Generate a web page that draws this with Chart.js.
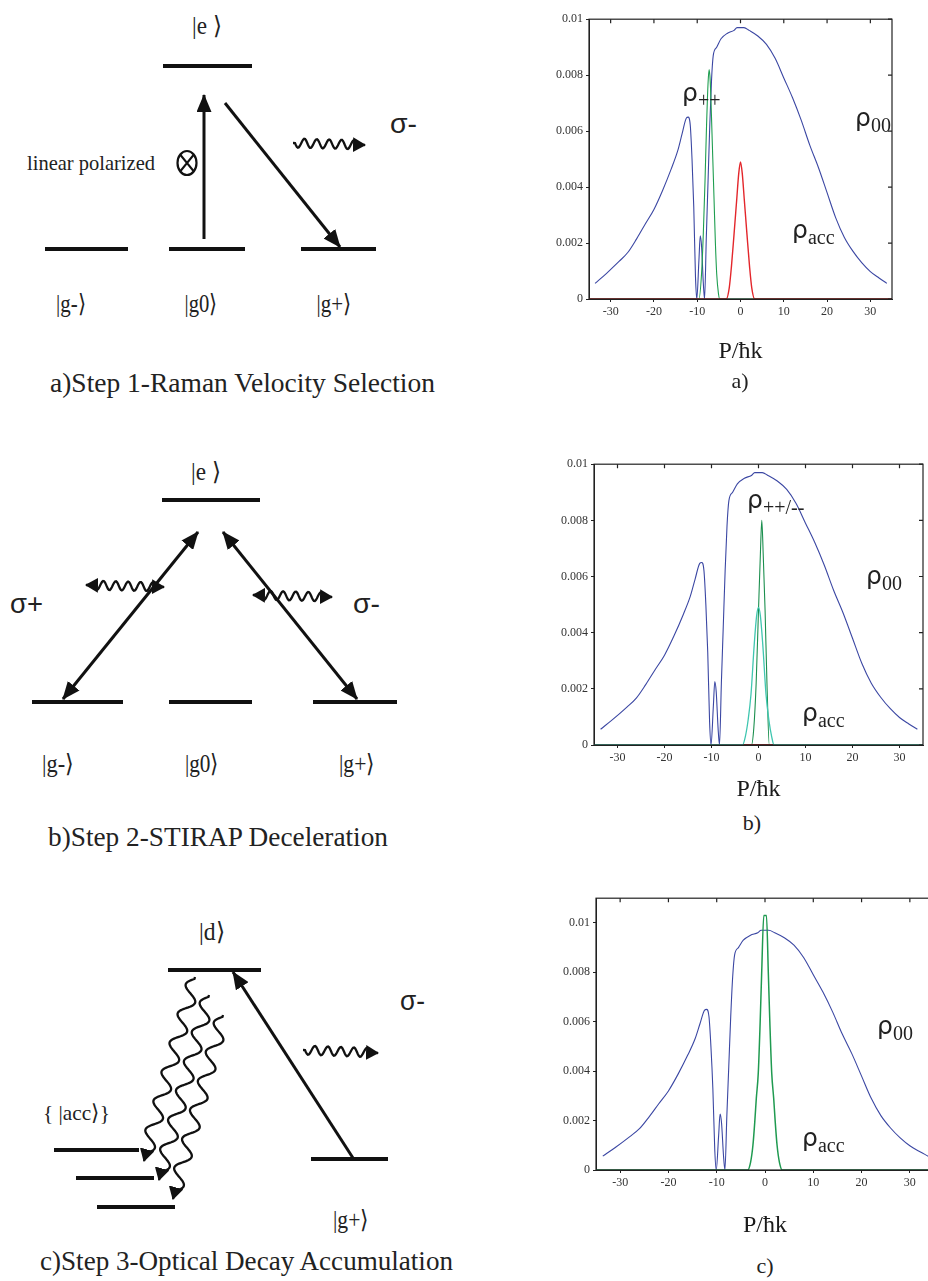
<!DOCTYPE html>
<html>
<head>
<meta charset="utf-8">
<script src="https://cdn.jsdelivr.net/npm/chart.js@4.4.1/dist/chart.umd.min.js"></script>
<style>
  html, body { margin: 0; padding: 0; background: #fff; }
  body { position: relative; width: 928px; height: 1281px; overflow: hidden; font-family: "Liberation Serif", serif; }
  canvas.plot { position: absolute; }
  .lbl { position: absolute; color: #222; white-space: nowrap; line-height: 1; }
  .lbl .rho { font-family: "DejaVu Sans", sans-serif; font-size: 25px; }
  .lbl sub { font-family: "Liberation Serif", serif; font-size: 20px; vertical-align: -6px; }
  .panel { position: absolute; font-size: 22px; color: #222; transform: translate(-50%, -50%); }
  #diagrams { position: absolute; left: 0; top: 0; }
  #diagrams text { fill: #222; }
</style>
</head>
<body>
<svg id="diagrams" width="470" height="1281">
  <defs>
    <marker id="head" markerUnits="userSpaceOnUse" markerWidth="18" markerHeight="15" viewBox="0 0 18 15" refX="17" refY="7.5" orient="auto-start-reverse">
      <path d="M0,0 L18,7.5 L0,15 z" fill="#111"/>
    </marker>
    <marker id="waveHead" markerUnits="userSpaceOnUse" markerWidth="13" markerHeight="15" viewBox="0 0 13 15" refX="12" refY="7.5" orient="auto-start-reverse">
      <path d="M0,0 L13,7.5 L0,15 z" fill="#111"/>
    </marker>
  </defs>
  <g id="diagA"></g>
  <g id="diagB"></g>
  <g id="diagC"></g>
</svg>

<canvas id="chart-a" class="plot" width="352" height="357" style="left:545px;top:9px"></canvas>
<canvas id="chart-b" class="plot" width="378" height="350" style="left:550px;top:454px"></canvas>
<canvas id="chart-c" class="plot" width="387" height="352" style="left:552px;top:888px"></canvas>

<div class="lbl" style="left:682px;top:80px"><span class="rho">ρ</span><sub>++</sub></div>
<div class="lbl" style="left:855px;top:105px"><span class="rho">ρ</span><sub>00</sub></div>
<div class="lbl" style="left:792px;top:217px"><span class="rho">ρ</span><sub>acc</sub></div>

<div class="lbl" style="left:747px;top:487px"><span class="rho">ρ</span><sub>++/--</sub></div>
<div class="lbl" style="left:866px;top:563px"><span class="rho">ρ</span><sub>00</sub></div>
<div class="lbl" style="left:802px;top:700px"><span class="rho">ρ</span><sub>acc</sub></div>

<div class="lbl" style="left:877px;top:1013px"><span class="rho">ρ</span><sub>00</sub></div>
<div class="lbl" style="left:802px;top:1125px"><span class="rho">ρ</span><sub>acc</sub></div>

<div class="panel" style="left:740px;top:381px">a)</div>
<div class="panel" style="left:752px;top:823px">b)</div>
<div class="panel" style="left:765px;top:1266px">c)</div>

<script>
// axis ticks shared by the three panels
const xTickValues = [-30, -20, -10, 0, 10, 20, 30];
const yTickValues = [0, 0.002, 0.004, 0.006, 0.008, 0.01];

// rho00 (blue), same in all three panels
const p00 = [-33.6, -31, -28, -26, -24, -22, -20, -18, -16, -14.5, -13.5, -12.5, -12.1, -11.6, -11.2,
  -10.8, -10.4, -10.1, -9.6, -9.3, -9.0, -8.6, -8.3, -7.9, -7.5, -7.1, -6.7, -6.3, -5.5, -4.5, -3,
  -1.5, -0.8, 0, 0.8, 2, 4, 6, 8, 10, 12, 14, 16, 18, 20, 22, 24, 26, 28, 30, 32, 33.8];
const rho00 = [0.00056, 0.00091, 0.00135, 0.00167, 0.00215, 0.00268, 0.0032, 0.00388, 0.00465, 0.0053,
  0.0059, 0.00647, 0.0065, 0.0062, 0.005, 0.0033, 0.0008, 0, 0.0014, 0.00226, 0.0019, 0.0006, 0,
  0.0022, 0.0042, 0.0062, 0.0078, 0.0087, 0.009, 0.0093, 0.0095, 0.0096, 0.0097, 0.0097, 0.0097,
  0.0096, 0.0094, 0.0091, 0.0086, 0.0079, 0.0072, 0.0064, 0.0055, 0.0047, 0.0038, 0.0029, 0.0022,
  0.0017, 0.0013, 0.00098, 0.00075, 0.00056];

// panel a
const pPlusA = [-35, -9.6, -9.0, -8.6, -8.2, -7.9, -7.5, -7.25, -7.0, -6.7, -6.4, -6.1, -5.8, -5.5, -5.1, -4.8, 35];
const rhoPlusA = [0, 0, 0.0009, 0.0023, 0.0042, 0.0059, 0.0077, 0.0082, 0.0078, 0.0065, 0.005, 0.0035, 0.002, 0.0009, 0.0002, 0, 0];
const pAccA = [-35, -3.3, -2.6, -2.1, -1.5, -0.9, -0.4, 0, 0.4, 0.9, 1.5, 2.1, 2.6, 3.3, 35];
const rhoAccA = [0, 0, 0.0004, 0.00115, 0.0023, 0.0035, 0.0045, 0.0049, 0.0045, 0.0035, 0.0023, 0.00115, 0.0004, 0, 0];

// panel b
const pPlusB = [-35, -3.4, -2.8, -2.2, -1.6, -0.9, -0.4, 0, 0.4, 0.9, 1.6, 2.2, 2.8, 3.3, 35];
const rhoPlusB = [0, 0, 0.0003, 0.0009, 0.0018, 0.0036, 0.0046, 0.0049, 0.0046, 0.0036, 0.0018, 0.0009, 0.0003, 0, 0];
const pMinusB = [-35, -1.5, -1.0, -0.5, 0, 0.4, 0.7, 1.0, 1.4, 1.8, 2.3, 35];
const rhoMinusB = [0, 0, 0.0006, 0.0022, 0.0048, 0.0068, 0.008, 0.0068, 0.0048, 0.0022, 0, 0];
const pAccB = [-3.3, 0, 3.3];
const rhoAccB = [0, 0, 0];

// panel c
const pAccC = [-35, -3.6, -3.0, -2.5, -2.1, -1.8, -1.4, -1.0, -0.7, -0.25, 0, 0.3, 0.7, 1.0, 1.4, 1.8, 2.1, 2.5, 3.0, 3.6, 35];
const rhoAccC = [0, 0, 0.0003, 0.001, 0.002, 0.0029, 0.0039, 0.006, 0.0079, 0.0103, 0.0103, 0.0103, 0.0079, 0.006, 0.0039, 0.0029, 0.002, 0.001, 0.0003, 0, 0];

function toPoints(xs, ys) {
  return xs.map((x, i) => ({ x, y: ys[i] }));
}

function series(xs, ys, color, width = 1.1) {
  return {
    data: toPoints(xs, ys),
    borderColor: color,
    borderWidth: width,
    pointRadius: 0,
    fill: false,
    cubicInterpolationMode: "monotone"
  };
}

const boxPlugin = {
  id: "box",
  afterDraw(chart) {
    const { ctx, chartArea: a, scales } = chart;
    ctx.save();
    ctx.strokeStyle = "#222";
    ctx.lineWidth = 1.2;
    ctx.strokeRect(a.left, a.top, a.right - a.left, a.bottom - a.top);
    ctx.beginPath();
    xTickValues.forEach((v) => {
      const px = scales.x.getPixelForValue(v);
      ctx.moveTo(px, a.top);
      ctx.lineTo(px, a.top + 4);
    });
    yTickValues.forEach((v) => {
      const py = scales.y.getPixelForValue(v);
      ctx.moveTo(a.right, py);
      ctx.lineTo(a.right - 4, py);
    });
    ctx.stroke();
    ctx.restore();
  }
};

function makeChart(id, datasets, yMax, xAxisHeight) {
  const tickFont = { family: "Liberation Serif", size: 12 };
  return new Chart(document.getElementById(id), {
    type: "line",
    data: { datasets },
    plugins: [boxPlugin],
    options: {
      responsive: false,
      animation: false,
      layout: { padding: { top: 8, right: 5, left: 0, bottom: 0 } },
      plugins: { legend: { display: false }, tooltip: { enabled: false } },
      scales: {
        x: {
          type: "linear",
          min: -35,
          max: 35,
          afterBuildTicks: (s) => { s.ticks = xTickValues.map((v) => ({ value: v })); },
          afterFit: (s) => { s.height = xAxisHeight; },
          grid: { drawOnChartArea: false, drawTicks: true, tickLength: 3, color: "#222" },
          border: { color: "#222" },
          ticks: { font: tickFont, color: "#333", padding: 3, maxRotation: 0, callback: (v) => String(v) },
          title: {
            display: true,
            text: "P/ħk",
            font: { family: "Liberation Serif", size: 24 },
            color: "#1a1a1a",
            padding: 0
          }
        },
        y: {
          min: 0,
          max: yMax,
          afterBuildTicks: (s) => { s.ticks = yTickValues.map((v) => ({ value: v })); },
          afterFit: (s) => { s.width = 44; },
          grid: { drawOnChartArea: false, drawTicks: true, tickLength: 3, color: "#222" },
          border: { color: "#222" },
          ticks: { font: tickFont, color: "#333", padding: 3, callback: (v) => (v === 0 ? "0" : String(v)) }
        }
      }
    }
  });
}

makeChart("chart-a", [
  series(pAccA, rhoAccA, "#e3262b", 1.4),
  series(pPlusA, rhoPlusA, "#1f9e50"),
  series(p00, rho00, "#3b47a3")
], 0.01, 67);

makeChart("chart-b", [
  series(pPlusB, rhoPlusB, "#3fc6b0", 1.3),
  series(pAccB, rhoAccB, "#a0282a", 2),
  series(pMinusB, rhoMinusB, "#1b8f4e"),
  series(p00, rho00, "#3b47a3")
], 0.01, 59);

makeChart("chart-c", [
  series(pAccC, rhoAccC, "#1f9a50", 1.5),
  series(p00, rho00, "#3b47a3")
], 0.011, 70);

// ---- level diagrams on the left ----
const SVG_NS = "http://www.w3.org/2000/svg";

function el(parent, tag, attrs, text) {
  const node = document.createElementNS(SVG_NS, tag);
  Object.entries(attrs).forEach(([k, v]) => node.setAttribute(k, v));
  if (text) node.textContent = text;
  parent.appendChild(node);
  return node;
}

function level(g, x0, x1, y) {
  el(g, "line", { x1: x0, y1: y, x2: x1, y2: y, stroke: "#111", "stroke-width": 4 });
}

function arrow(g, x0, y0, x1, y1, both) {
  const attrs = { x1: x0, y1: y0, x2: x1, y2: y1, stroke: "#111", "stroke-width": 3, "marker-end": "url(#head)" };
  if (both) attrs["marker-start"] = "url(#head)";
  el(g, "line", attrs);
}

function label(g, x, y, text, size, opts = {}) {
  const attrs = {
    x, y,
    "font-size": size,
    "font-family": opts.sans ? "Liberation Sans" : "Liberation Serif",
    "text-anchor": opts.anchor || "start"
  };
  if (opts.len) {
    attrs.textLength = opts.len;
    attrs.lengthAdjust = "spacingAndGlyphs";
  }
  el(g, "text", attrs, text);
}

function wave(g, x0, y0, x1, y1, period, amp, both) {
  const dx = x1 - x0, dy = y1 - y0, len = Math.hypot(dx, dy);
  const ux = dx / len, uy = dy / len, nx = -uy, ny = ux;
  const lead = both ? 8 : 2, tail = 8;
  const waveLen = len - lead - tail;
  const n = Math.max(1, Math.round(waveLen / period));
  const per = waveLen / n;
  let d = `M${x0},${y0} L${x0 + ux * lead},${y0 + uy * lead}`;
  for (let s = 1; s <= waveLen; s += 1) {
    const off = amp * Math.sin((2 * Math.PI * s) / per);
    const bx = x0 + ux * (lead + s), by = y0 + uy * (lead + s);
    d += ` L${(bx + nx * off).toFixed(2)},${(by + ny * off).toFixed(2)}`;
  }
  d += ` L${x1 - ux * 2},${y1 - uy * 2} L${x1},${y1}`;
  const attrs = { d, fill: "none", stroke: "#111", "stroke-width": 2.3, "marker-end": "url(#waveHead)" };
  if (both) attrs["marker-start"] = "url(#waveHead)";
  el(g, "path", attrs);
}

const ga = document.getElementById("diagA");
label(ga, 207, 34, "|e \u27e9", 25, { anchor: "middle", len: 30 });
level(ga, 163, 252, 66);
level(ga, 45, 128, 249);
level(ga, 169, 245, 249);
level(ga, 301, 376, 249);
arrow(ga, 204, 239, 204, 95);
arrow(ga, 225, 103, 340, 247);
el(ga, "ellipse", { cx: 187, cy: 163, rx: 9.5, ry: 12, fill: "none", stroke: "#111", "stroke-width": 2.2 });
el(ga, "path", { d: "M180.5,155 L193.5,171 M193.5,155 L180.5,171", stroke: "#111", "stroke-width": 2 });
label(ga, 27, 170, "linear polarized", 22, { len: 128 });
wave(ga, 293, 143, 365, 145, 12, 4.5, false);
label(ga, 390, 133, "σ-", 28, { sans: true, len: 27 });
label(ga, 71, 312, "|g-\u27e9", 25, { anchor: "middle", len: 30 });
label(ga, 201, 312, "|g0\u27e9", 25, { anchor: "middle", len: 33 });
label(ga, 334, 312, "|g+\u27e9", 25, { anchor: "middle", len: 35 });
label(ga, 50, 392, "a)Step 1-Raman Velocity Selection", 28, { len: 385 });

const gb = document.getElementById("diagB");
label(gb, 206, 480, "|e \u27e9", 25, { anchor: "middle", len: 30 });
level(gb, 162, 260, 500);
level(gb, 32, 123, 702);
level(gb, 169, 252, 702);
level(gb, 313, 397, 702);
arrow(gb, 198, 532, 63, 699, true);
arrow(gb, 223, 532, 357, 699, true);
wave(gb, 86, 585, 164, 587, 13, 4.5, true);
wave(gb, 253, 595, 332, 597, 13, 4.5, true);
label(gb, 10, 613, "σ+", 28, { sans: true, len: 33 });
label(gb, 353, 613, "σ-", 28, { sans: true, len: 27 });
label(gb, 58, 772, "|g-\u27e9", 25, { anchor: "middle", len: 32 });
label(gb, 202, 772, "|g0\u27e9", 25, { anchor: "middle", len: 34 });
label(gb, 357, 772, "|g+\u27e9", 25, { anchor: "middle", len: 36 });
label(gb, 48, 846, "b)Step 2-STIRAP Deceleration", 28, { len: 340 });

const gc = document.getElementById("diagC");
label(gc, 212, 940, "|d\u27e9", 25, { anchor: "middle", len: 26 });
level(gc, 168, 261, 970);
level(gc, 54, 139, 1150);
level(gc, 76, 154, 1178);
level(gc, 97, 175, 1207);
level(gc, 311, 388, 1159);
arrow(gc, 353, 1158, 233, 972);
wave(gc, 195, 977, 144, 1161, 30, 7, false);
wave(gc, 209, 995, 159, 1180, 30, 7, false);
wave(gc, 223, 1015, 173, 1199, 30, 7, false);
wave(gc, 303, 1050, 378, 1053, 12, 4.5, false);
label(gc, 400, 1010, "σ-", 28, { sans: true, len: 25 });
label(gc, 43, 1120, "{ |acc\u27e9}", 22, { len: 67 });
label(gc, 351, 1228, "|g+\u27e9", 25, { anchor: "middle", len: 36 });
label(gc, 40, 1270, "c)Step 3-Optical Decay Accumulation", 28, { len: 413 });
</script>
</body>
</html>
